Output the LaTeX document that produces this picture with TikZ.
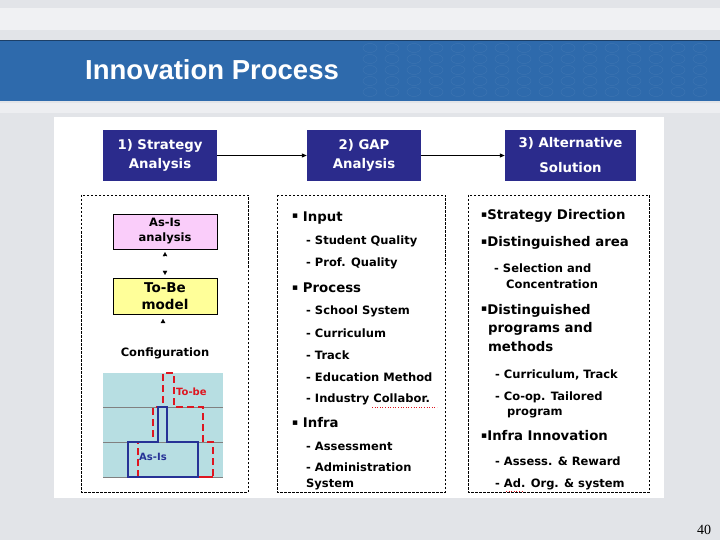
\documentclass[tikz,border=0pt]{standalone}
\usepackage{fontspec}
\setmainfont{DejaVu Sans}
\newfontfamily\titlefont{Liberation Sans}
\newfontfamily\pagefont{Liberation Serif}
\usetikzlibrary{arrows.meta,positioning}
\definecolor{bandblue}{RGB}{46,106,172}
\definecolor{headnavy}{RGB}{43,43,140}
\definecolor{asispink}{RGB}{250,205,250}
\definecolor{tobeyellow}{RGB}{255,255,153}
\definecolor{chartblue}{RGB}{183,222,226}
\definecolor{asisblue}{RGB}{38,50,150}
\definecolor{tobered}{RGB}{222,22,32}
\definecolor{slidegray}{RGB}{226,228,232}
\newcommand{\blt}{\raisebox{2.5pt}{\fontsize{9}{9}\selectfont▪}}

\begin{document}
\begin{tikzpicture}[x=1pt, y=-1pt,
    headbox/.style = {fill = headnavy, text = white, align = center, inner sep = 0pt, minimum width = #1, minimum height = 51pt, font = \bfseries\fontsize{13.3}{19}\selectfont},
    modelbox/.style = {draw = black, fill = #1, align = center, inner sep = 0pt, minimum width = 104pt, minimum height = 35pt},
    dashbox/.style = {draw = black, dash pattern = on 2.5pt off 1.5pt, line width = .6pt},
    item/.style = {anchor = west, inner sep = 0pt, font = \bfseries\fontsize{13.3}{16}\selectfont},
    subitem/.style = {anchor = west, inner sep = 0pt, font = \bfseries\fontsize{11.5}{15}\selectfont},
    tip/.style = {white, line width = .1pt, -{Triangle[color = black, length = 4pt, width = 4.5pt]}}]
    \useasboundingbox (0,0) rectangle (720,540);
    % slide background
    \fill[slidegray] (0,0) rectangle (720,540);
    \fill[white, opacity = .5] (0,8) rectangle (720,30);
    \fill[white, opacity = .4] (0,103) rectangle (720,113);
    \fill[bandblue] (0,40) rectangle (720,101);
    \draw[bandblue!60!black] (0,40.5) -- (720,40.5);
    \foreach \cx in {370,392,...,720}
    	\foreach \cy in {48,59,70,81,92}
    		\draw[white, opacity = .08] (\cx,\cy) ellipse (7 and 4.5);
    \node[anchor = west, inner sep = 0pt, text = white, font = \titlefont\bfseries\fontsize{27.5}{32}\selectfont] (title) at (85,70) {Innovation Process};
    \fill[white] (54,117) rectangle (664,498);

    % steps
    \node[headbox = 114pt] (S1) at (160,155.5) {1) Strategy\\Analysis};
    \node[headbox = 114pt] (S2) at (364,155.5) {2) GAP\\Analysis};
    \node[headbox = 131pt, font = \bfseries\fontsize{13.3}{25}\selectfont] (S3) at (570.5,155.5) {3) Alternative\\Solution};
    \draw[-{Triangle[length = 5pt, width = 4pt]}, line width = 1pt] (S1) -- (S2);
    \draw[-{Triangle[length = 5pt, width = 4pt]}, line width = 1pt] (S2) -- (S3);

    \draw[dashbox] (81,195) rectangle (248,492);
    \draw[dashbox] (277,195) rectangle (445,492);
    \draw[dashbox] (468,195) rectangle (649,492);

    % column 1
    \node[modelbox = asispink, font = \bfseries\fontsize{11.5}{15}\selectfont] (asis) at (165,231.5) {As-Is\\analysis};
    \node[modelbox = tobeyellow, minimum height = 36pt, font = \bfseries\fontsize{13.5}{17}\selectfont] (tobe) at (165,296) {To-Be\\model};
    \draw[tip, shorten < = 7pt, shorten > = 3pt] (tobe) -- (asis);
    \draw[tip, shorten < = 7pt, shorten > = 3pt] (asis) -- (tobe);
    \node[font = \bfseries\fontsize{11.5}{14}\selectfont, inner sep = 0pt] (conf) at (165,353) {Configuration};
    \draw[tip, shorten < = 17pt, shorten > = 5pt] (conf.north -| 163,0) -- (163,314);
    \fill[chartblue] (103,373) rectangle (223,478);
    \draw[gray] (103,407) -- (223,407);
    \draw[gray] (103,442) -- (223,442);
    \draw[gray] (103,477.5) -- (223,477.5);
    \draw[tobered, line width = 1.6pt] (138,477) -- (213,477);
    \draw[tobered, line width = 1.6pt, dash pattern = on 7pt off 4pt] (138,477) -- (138,442) -- (153,442) -- (153,407) -- (163,407) -- (163,373) -- (174,373) -- (174,407) -- (203,407) -- (203,442) -- (213,442) -- (213,477);
    \draw[asisblue, line width = 1.8pt] (128,477) -- (128,442) -- (158,442) -- (158,407) -- (167,407) -- (167,442) -- (198,442) -- (198,477) -- cycle;
    \node[anchor = west, inner sep = 0pt, text = tobered, font = \bfseries\fontsize{10}{12}\selectfont] (tobelbl) at (176,392) {To-be};
    \node[anchor = west, inner sep = 0pt, text = asisblue, font = \bfseries\fontsize{10}{12}\selectfont] (asislbl) at (139,457) {As-Is};

    % column 2
    \node[item] (in) at (292,218) {\blt\ Input};
    \node[subitem] (in1) at (306,241) {- Student Quality};
    \node[subitem] (in2) at (306,263) {- Prof. Quality};
    \node[item] (pr) at (292,288) {\blt\ Process};
    \node[subitem] (pr1) at (306,311) {- School System};
    \node[subitem] (pr2) at (306,333) {- Curriculum};
    \node[subitem] (pr3) at (306,355) {- Track};
    \node[subitem] (pr4) at (306,377) {- Education Method};
    \node[subitem] (pr5) at (306,399) {- Industry Collabor.};
    \draw[tobered, dotted, line width = .6pt] (372,407) -- (437,407);
    \node[item] (inf) at (292,423) {\blt\ Infra};
    \node[subitem] (inf1) at (306,446) {- Assessment};
    \node[subitem, align = left, font = \bfseries\fontsize{11.5}{16}\selectfont] (inf2) at (306,476) {- Administration\\System};

    % column 3
    \node[item] (dir) at (481,216) {\blt Strategy Direction};
    \node[item] (area) at (481,243) {\blt Distinguished area};
    \node[subitem, align = left, font = \bfseries\fontsize{11.5}{16}\selectfont] (area1) at (494,276) {- Selection and\\\ \ \ Concentration};
    \node[item, align = left, font = \bfseries\fontsize{13.3}{18.5}\selectfont] (prog) at (481,328) {\blt Distinguished\\\ \,programs and\\\ \,methods};
    \node[subitem] (prog1) at (495,375) {- Curriculum, Track};
    \node[subitem, align = left] (prog2) at (495,405) {- Co-op. Tailored\\\ \ \ program};
    \node[item] (infra) at (481,436) {\blt Infra Innovation};
    \node[subitem] (infra1) at (495,461) {- Assess. \& Reward};
    \node[subitem] (infra2) at (495,484) {- Ad. Org. \& system};
    \draw[tobered, dotted, line width = .6pt] (506,491) -- (524,491);

    \node[font = \pagefont\fontsize{14}{16}\selectfont, inner sep = 0pt] (page) at (704,530) {40};
\end{tikzpicture}
\end{document}
